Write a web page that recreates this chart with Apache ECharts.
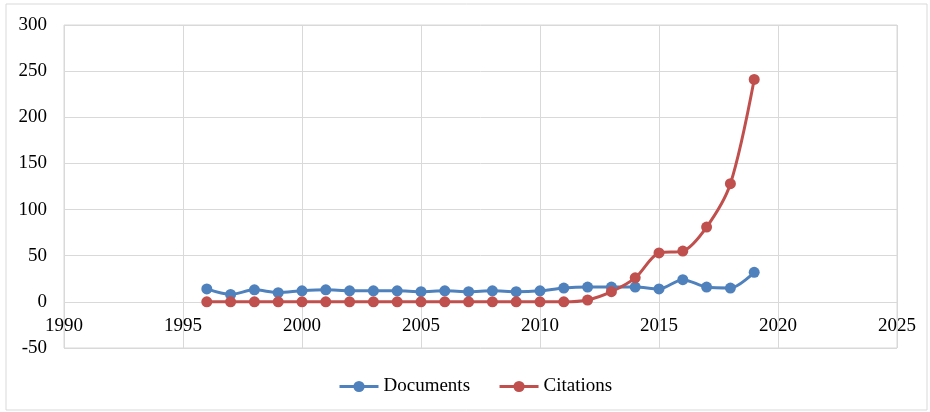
<!DOCTYPE html>
<html><head><meta charset="utf-8">
<script src="https://cdn.jsdelivr.net/npm/echarts@6/dist/echarts.min.js"></script>
<style>html,body{margin:0;padding:0;background:#fff}#c{width:930px;height:412px}</style>
</head><body><div id="c"></div>
<script>
const years = [1996,1997,1998,1999,2000,2001,2002,2003,2004,2005,2006,2007,2008,2009,2010,2011,2012,2013,2014,2015,2016,2017,2018,2019];
const documents = [14,8,13,10,12,13,12,12,12,11,12,11,12,11,12,15,16,16,16,14,24,16,15,32];
const citations = [0,0,0,0,0,0,0,0,0,0,0,0,0,0,0,0,2,11,26,53,55,81,128,241];
const xTicks = {min:1990, max:2025, interval:5};
const yTicks = {min:-50, max:300, interval:50};

const font = 'Liberation Serif, Times New Roman, serif';
const chart = echarts.init(document.getElementById('c'), null, {renderer:'canvas'});
chart.setOption({
  animation:false,
  graphic:[{type:'rect', shape:{x:6,y:4,width:921,height:406}, style:{fill:'none', stroke:'#d9d9d9', lineWidth:1}}],
  grid:{left:64, right:33, top:25, bottom:64, show:true, borderColor:'#d9d9d9', borderWidth:1},
  legend:{top:372, left:333, itemGap:28, itemWidth:39, itemHeight:14,
    lineStyle:{width:3},
    textStyle:{fontFamily:font, fontSize:19, color:'#000'},
    data:['Documents','Citations']},
  xAxis:{type:'value', min:xTicks.min, max:xTicks.max, interval:xTicks.interval,
    position:'bottom', offset:-46,
    axisLine:{onZero:false, show:false}, axisTick:{show:false},
    axisLabel:{fontFamily:font, fontSize:19, color:'#000', margin:15, formatter:v=>String(v)},
    splitLine:{show:true, lineStyle:{color:'#d9d9d9'}}},
  yAxis:{type:'value', min:yTicks.min, max:yTicks.max, interval:yTicks.interval,
    axisLine:{show:false}, axisTick:{show:false},
    axisLabel:{fontFamily:font, fontSize:19, color:'#000', margin:17},
    splitLine:{show:true, lineStyle:{color:'#d9d9d9'}}},
  series:[
    {name:'Documents', type:'line', smooth:0.3, symbol:'circle', symbolSize:11,
     itemStyle:{color:'#4f81bd'}, lineStyle:{width:3, color:'#4f81bd'},
     data:years.map((y,i)=>[y,documents[i]])},
    {name:'Citations', type:'line', smooth:0.3, symbol:'circle', symbolSize:11,
     itemStyle:{color:'#c0504d'}, lineStyle:{width:3, color:'#c0504d'},
     data:years.map((y,i)=>[y,citations[i]])}
  ]
});
</script></body></html>
